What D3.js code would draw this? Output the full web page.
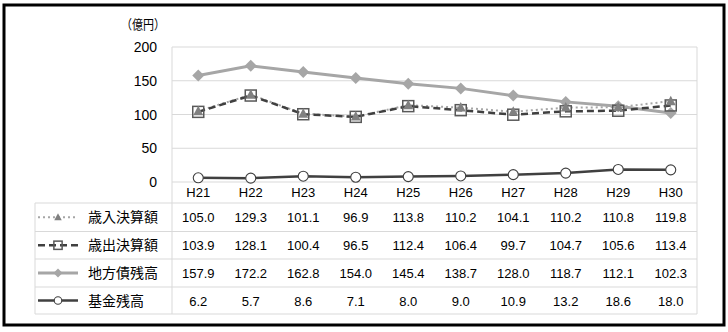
<!DOCTYPE html>
<html><head><meta charset="utf-8">
<script src="https://cdn.jsdelivr.net/npm/d3@7"></script>
<style>body{margin:0;background:#fff}</style>
</head><body>
<svg id="c" width="728" height="332"></svg>
<script>
const categories = ["H21","H22","H23","H24","H25","H26","H27","H28","H29","H30"];
const seriesNames = ["歳入決算額","歳出決算額","地方債残高","基金残高"];
const revenue = [105.0,129.3,101.1,96.9,113.8,110.2,104.1,110.2,110.8,119.8];
const expenditure = [103.9,128.1,100.4,96.5,112.4,106.4,99.7,104.7,105.6,113.4];
const bonds = [157.9,172.2,162.8,154.0,145.4,138.7,128.0,118.7,112.1,102.3];
const funds = [6.2,5.7,8.6,7.1,8.0,9.0,10.9,13.2,18.6,18.0];
const yTicks = [0,50,100,150,200];
const unitLabel = "（億円）";

(function(){
const svg = d3.select("#c");
const jp = "'Noto Sans CJK JP','Noto Sans',sans-serif";
const num = "'Liberation Sans',Arial,sans-serif";

svg.append("rect").attr("x",4).attr("y",5).attr("width",720).attr("height",320)
  .attr("fill","none").attr("stroke","#000").attr("stroke-width",3);

const pLeft=172, pRight=697, pTop=47, zeroY=182;
const x = d3.scaleBand().domain(categories).range([pLeft,pRight]);
const y = d3.scaleLinear().domain([0,200]).range([zeroY,pTop]);
const cx = d => x(d)+x.bandwidth()/2;

const grid="#d9d9d9";
svg.append("g").selectAll("line").data(yTicks).join("line")
  .attr("x1",pLeft).attr("x2",pRight).attr("y1",d=>y(d)).attr("y2",d=>y(d))
  .attr("stroke",grid).attr("stroke-width",1);

svg.append("g").selectAll("text").data(yTicks).join("text")
  .attr("x",157).attr("y",d=>y(d)+5).attr("text-anchor","end")
  .attr("font-family",num).attr("font-size",14).attr("fill","#000").text(d=>d);

svg.append("text").attr("x",121).attr("y",29).attr("font-family",jp)
  .attr("font-size",13).attr("textLength",44).attr("lengthAdjust","spacingAndGlyphs")
  .attr("fill","#000").text(unitLabel);

const tLeft=35, rowLines=[203,231.5,259,287,314];
svg.append("g").selectAll("line").data(rowLines).join("line")
  .attr("x1",tLeft).attr("x2",pRight).attr("y1",d=>d).attr("y2",d=>d)
  .attr("stroke",grid);
svg.append("line").attr("x1",tLeft).attr("x2",tLeft).attr("y1",203).attr("y2",314).attr("stroke",grid);
svg.append("line").attr("x1",pLeft).attr("x2",pLeft).attr("y1",pTop).attr("y2",314).attr("stroke",grid);
svg.append("line").attr("x1",pRight).attr("x2",pRight).attr("y1",pTop).attr("y2",314).attr("stroke",grid);

svg.append("g").selectAll("text").data(categories).join("text")
  .attr("x",d=>cx(d)).attr("y",197).attr("text-anchor","middle")
  .attr("font-family",num).attr("font-size",13).attr("fill","#000").text(d=>d);

const seriesData=[revenue,expenditure,bonds,funds];
const styles=[
  {color:"#a6a6a6",width:2,dash:"2,3",marker:"tri"},
  {color:"#404040",width:2.5,dash:"7,4",marker:"sq"},
  {color:"#a6a6a6",width:3,dash:null,marker:"dia"},
  {color:"#404040",width:2.5,dash:null,marker:"circ"}
];
const line = d3.line().x((d,i)=>cx(categories[i])).y(d=>y(d));

function drawMarker(g,type,px,py,s){
  if(type==="tri"){
    g.append("path").attr("d",`M0,${-5.5*s}L${5*s},${4*s}L${-5*s},${4*s}Z`).attr("transform",`translate(${px},${py})`)
     .attr("fill","#808080");
  } else if(type==="sq"){
    g.append("rect").attr("x",px-5.5*s).attr("y",py-5.5*s).attr("width",11*s).attr("height",11*s)
     .attr("fill","none").attr("stroke","#595959").attr("stroke-width",1.5);
  } else if(type==="dia"){
    const r=6*s;
    g.append("path").attr("d",`M0,${-r}L${r},0L0,${r}L${-r},0Z`).attr("transform",`translate(${px},${py})`)
     .attr("fill","#a6a6a6");
  } else {
    g.append("circle").attr("cx",px).attr("cy",py).attr("r",5*s)
     .attr("fill","#fff").attr("stroke","#404040").attr("stroke-width",1.1);
  }
}

[2,3,0,1].forEach(k=>{
  const st=styles[k];
  svg.append("path").datum(seriesData[k]).attr("d",line).attr("fill","none")
    .attr("stroke",st.color).attr("stroke-width",st.width)
    .attr("stroke-dasharray",st.dash);
});
[2,3,1,0].forEach(k=>{
  const g=svg.append("g");
  seriesData[k].forEach((v,i)=>drawMarker(g,styles[k].marker,cx(categories[i]),y(v),1));
});

const rowCenters=rowLines.slice(0,4).map((d,i)=>(d+rowLines[i+1])/2);
seriesNames.forEach((name,k)=>{
  const rc=rowCenters[k], st=styles[k];
  const g=svg.append("g");
  g.append("line").attr("x1",38).attr("x2",78).attr("y1",rc).attr("y2",rc)
    .attr("stroke",st.color).attr("stroke-width",st.width).attr("stroke-dasharray",st.dash);
  drawMarker(g,st.marker,58,rc,0.75);
  g.append("text").attr("x",88).attr("y",rc+5).attr("font-family",jp).attr("font-size",14)
    .attr("fill","#000").text(name);
  g.selectAll("text.v").data(seriesData[k]).join("text").attr("class","v")
    .attr("x",(d,i)=>cx(categories[i])).attr("y",rc+5).attr("text-anchor","middle")
    .attr("font-family",num).attr("font-size",13).attr("fill","#000").text(d=>d.toFixed(1));
});
})();
</script>
</body></html>
